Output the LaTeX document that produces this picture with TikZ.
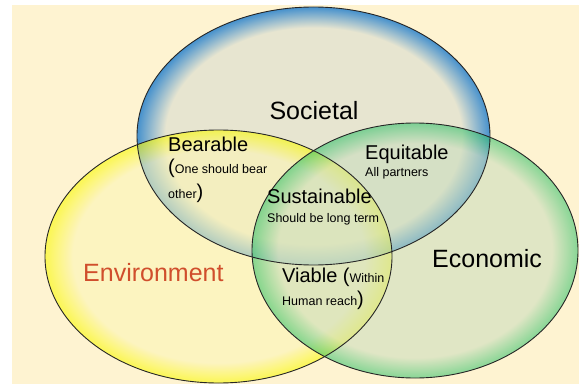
\documentclass[tikz,border=0pt]{standalone}
\usepackage{fontspec}
\setmainfont{Liberation Sans}
\usepackage{tikz}
\usetikzlibrary{shapes, positioning}

\definecolor{cream}{RGB}{254,243,209}
\definecolor{socin}{RGB}{231,229,208}
\definecolor{socrim}{RGB}{70,145,205}
\definecolor{envin}{RGB}{252,245,181}
\definecolor{envrim}{RGB}{250,250,0}
\definecolor{ecoin}{RGB}{200,220,188}
\definecolor{ecorim}{RGB}{40,190,100}
\definecolor{envtext}{RGB}{208,78,44}

\pgfdeclareradialshading{socshade}{\pgfpoint{0bp}{0bp}}{color(0bp)=(socin); color(21bp)=(socin); color(25bp)=(socrim); color(50bp)=(socrim)}
\pgfdeclareradialshading{envshade}{\pgfpoint{0bp}{0bp}}{color(0bp)=(envin); color(21bp)=(envin); color(25bp)=(envrim); color(50bp)=(envrim)}
\pgfdeclareradialshading{ecoshade}{\pgfpoint{0bp}{0bp}}{color(0bp)=(ecoin); color(21bp)=(ecoin); color(25bp)=(ecorim); color(50bp)=(ecorim)}

\newcommand{\fsbig}{\fontsize{25}{30}\selectfont}
\newcommand{\fsmid}{\fontsize{20}{24}\selectfont}
\newcommand{\fssmall}{\fontsize{12.5}{15}\selectfont}

\begin{document}
\begin{tikzpicture}[x=1pt, y=1pt,
		rim/.style={draw=black!85, line width=0.9pt},
		title/.style={anchor=base, inner sep=0pt, font=\fsbig},
		word/.style={anchor=base west, inner sep=0pt, font=\fsmid},
		note/.style={anchor=base west, inner sep=0pt, font=\fssmall}]
		\useasboundingbox (0,0) rectangle (579,384);
		\fill[cream] (12,0) rectangle (579,379);
		
		% the three circles
		\shade[shading=socshade] (313.5,248) ellipse [x radius=176.5, y radius=129];
		\shade[shading=envshade, opacity=0.6] (218.5,127.5) ellipse [x radius=173.5, y radius=126.5];
		\shade[shading=ecoshade, opacity=0.55] (415,133.5) ellipse [x radius=163, y radius=127.5];
		
		\draw[rim] (313.5,248) ellipse [x radius=176.5, y radius=129];
		\draw[rim] (218.5,127.5) ellipse [x radius=173.5, y radius=126.5];
		\draw[rim] (415,133.5) ellipse [x radius=163, y radius=127.5];
		
		% labels
		\node[title] (soc) at (314,265) {Societal};
		\node[title, anchor=base west, text=envtext] (env) at (83,103) {Environment};
		\node[title, anchor=base west] (eco) at (432,117) {Economic};
		
		\node[word] (bear) at (168,233) {Bearable};
		\node[note] (bear1) at (168,211) {\fsmid(\fssmall One should bear};
		\node[note] (bear2) at (168,186) {other\fsmid)};
		
		\node[word] (equ) at (365,225) {Equitable};
		\node[note] (equ1) at (365,208) {All partners};
		
		\node[word] (sus) at (267,181) {Sustainable};
		\node[note] (sus1) at (267,162) {Should be long term};
		
		\node[word] (via) at (282,102) {Viable \fsmid(\fssmall Within};
		\node[note] (via1) at (282,79) {Human reach\fsmid)};
	\end{tikzpicture}
\end{document}
